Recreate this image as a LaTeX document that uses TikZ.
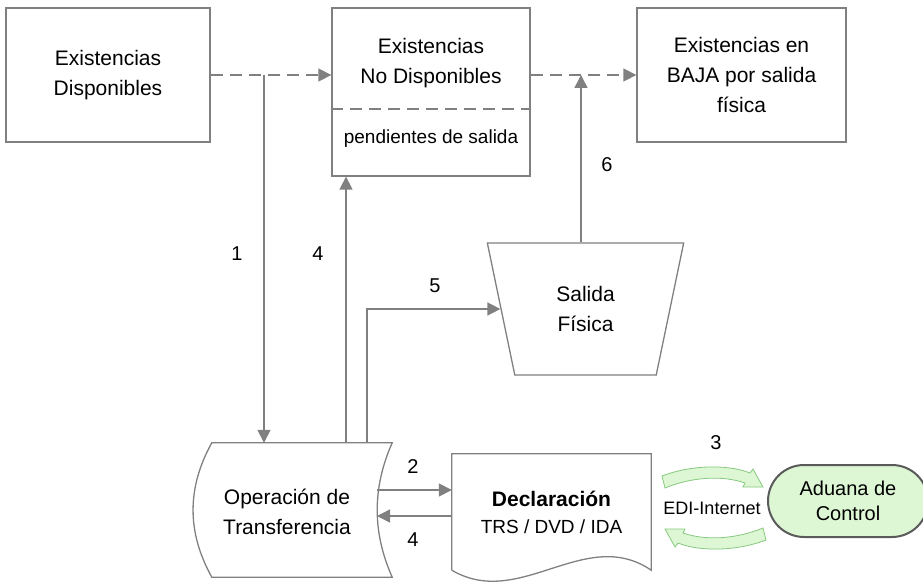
\documentclass[tikz,border=0pt]{standalone}
\usepackage{fontspec}
\setmainfont{Liberation Sans}
\usetikzlibrary{arrows.meta,shapes.geometric}
\definecolor{linegray}{HTML}{808080}
\definecolor{edgegreen}{HTML}{86C97E}
\definecolor{softgreen}{HTML}{DDF6D4}
\definecolor{darkedge}{HTML}{5A5A5A}
\begin{document}
\begin{tikzpicture}[x=1pt,y=-1pt,
        txt/.style={align=center,inner sep=0pt,font=\fontsize{21}{30}\selectfont},
        box/.style={txt,draw=linegray,line width=1.3pt},
        outline/.style={draw=linegray,line width=1.3pt},
        flow/.style={draw=linegray,line width=1.5pt,-{Triangle[length=13pt,width=13pt]}},
        dflow/.style={flow,dash pattern=on 12pt off 7pt},
        num/.style={inner sep=0pt,font=\fontsize{20}{24}\selectfont},
        bandarrow/.style={fill=softgreen,draw=edgegreen,line width=0.8pt}]
    \useasboundingbox (0,0) rectangle (923,583);

    % top row
    \node[box,minimum width=204pt,minimum height=134pt] (disp) at (108,75) {Existencias\\Disponibles};
    \node[box,minimum width=198pt,minimum height=168pt] (nodisp) at (431,92) {};
    \node[txt] (nodisptxt) at (431,63) {Existencias\\No Disponibles};
    \node[txt,font=\fontsize{19}{24}\selectfont] (pend) at (431,139) {pendientes de salida};
    \coordinate (sep) at (431,109);
    \draw[outline,dash pattern=on 12pt off 7pt] (nodisp.west |- sep) -- (nodisp.east |- sep);
    \node[box,minimum width=209pt,minimum height=134pt] (baja) at (741.5,75) {Existencias en\\BAJA por salida\\física};

    % middle
    \node[box,trapezium,shape border rotate=180,trapezium angle=76,trapezium stretches=true,
          minimum width=197pt,minimum height=132pt] (sal) at (585.5,309) {Salida\\Física};

    % bottom row
    \node[minimum width=180pt,minimum height=134pt,inner sep=0pt] (oper) at (302,510) {};
    \draw[outline] (oper.north west) -- (oper.north east)
        .. controls +(-20,45) and +(-20,-45) .. (oper.south east) -- (oper.south west)
        .. controls +(-25,-45) and +(-25,45) .. (oper.north west) -- cycle;
    \node[txt] (opertxt) at (287,512) {Operación de\\Transferencia};

    \node[txt,minimum width=199pt,minimum height=116pt] (decl) at (551.5,512)
        {\textbf{Declaración}\\[-3pt]{\fontsize{19}{27}\selectfont TRS / DVD / IDA}};
    \draw[outline] (decl.south west) -- (decl.north west) -- (decl.north east) -- (decl.south east)
        .. controls +(-66,-45) and +(68,40) .. (decl.south west);

    \node[txt,font=\fontsize{20}{25}\selectfont,draw=darkedge,line width=2pt,fill=softgreen,
          rounded corners=36pt,minimum width=160pt,minimum height=72pt] (adu) at (848,501) {Aduana de\\Control};

    % EDI exchange
    \draw[bandarrow] (662,476) .. controls (690,465) and (728,464) .. (750,473) -- (753,469) -- (763,487)
        -- (743,487) -- (745,483) .. controls (722,475) and (692,477) .. (665,488) -- cycle;
    \begin{scope}[rotate around={180:(714,508)}]
        \draw[bandarrow] (662,476) .. controls (690,465) and (728,464) .. (750,473) -- (753,469) -- (763,487)
            -- (743,487) -- (745,483) .. controls (722,475) and (692,477) .. (665,488) -- cycle;
    \end{scope}
    \node[txt,font=\fontsize{18}{22}\selectfont] (edi) at (712,508) {EDI-Internet};

    % connectors
    \coordinate (j1) at (264,75);
    \coordinate (j6) at (581,75);
    \coordinate (op2) at (377,490);
    \coordinate (op4) at (377,516);
    \draw[dflow] (disp.east) -- (disp.east -| nodisp.west);
    \draw[dflow] (nodisp.east |- baja.west) -- (baja.west);
    \draw[flow] (j1) -- (j1 |- oper.north);
    \draw[flow] ([xshift=44pt]oper.north) -- ([xshift=44pt]oper.north |- nodisp.south);
    \draw[flow] ([xshift=65pt]oper.north) |- (sal.west);
    \draw[flow] (j6 |- sal.north) -- (j6);
    \draw[flow] (op2) -- (op2 -| decl.west);
    \draw[flow] (op4 -| decl.west) -- (op4);

    % step numbers
    \node[num] (n1) at (237,254) {1};
    \node[num] (n4a) at (318,254) {4};
    \node[num] (n5) at (435,286) {5};
    \node[num] (n6) at (607,165) {6};
    \node[num] (n2) at (413,467) {2};
    \node[num] (n4b) at (413,540) {4};
    \node[num] (n3) at (716,443) {3};
\end{tikzpicture}
\end{document}
